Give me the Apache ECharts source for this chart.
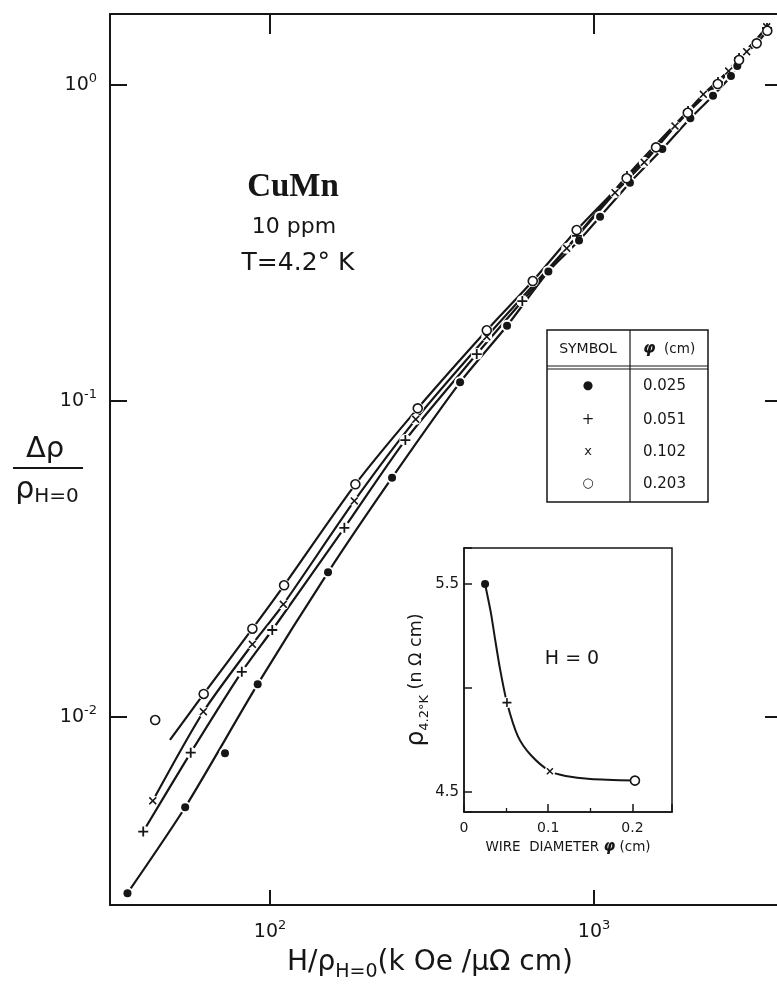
<!DOCTYPE html>
<html>
<head>
<meta charset="utf-8">
<script src="https://cdn.jsdelivr.net/npm/echarts@6/dist/echarts.min.js"></script>
<style>html,body{margin:0;padding:0;background:#fff}#c{width:777px;height:987px}</style>
</head>
<body>
<div id="c"></div>
<script>
// ---------- main Kohler plot: [H/rho(H=0) (kOe/uOhm cm), delta rho / rho(H=0)] ----------
const pts025 = [[36.3,0.00277],[54.7,0.00518],[91.6,0.0127],[151,0.0287],[238,0.0572],[386,0.1146],[539,0.173],[723,0.257],[899,0.322],[1044,0.383],[1291,0.491],[1625,0.627],[1983,0.785],[2330,0.925],[2647,1.068],[2769,1.148]];
const stray025 = [[72.6,0.00768]];
const pts051 = [[40.6,0.00434],[56.9,0.00771],[81.8,0.0139],[101.6,0.01885],[169.6,0.0397],[261.6,0.0752],[434.5,0.1408],[600.8,0.2072],[886,0.333],[1264,0.515],[1951,0.827],[2414,1.022],[2803,1.217],[3420,1.515]];
const pts102 = [[43.45,0.00543],[62.25,0.01039],[88.2,0.01699],[109.9,0.02273],[182,0.04827],[281.7,0.0875],[466.6,0.1598],[823.7,0.3042],[1161,0.4562],[1429,0.5692],[1778,0.7418],[2175,0.9345],[2604,1.107],[2960,1.275],[3412,1.529]];
const lead203 = [[49.1,0.00846]];
const pts203 = [[62.4,0.01183],[88.2,0.01903],[110.5,0.02611],[183.4,0.0545],[285.7,0.0948],[466.6,0.1674],[647,0.2397],[884,0.3476],[1261,0.5067],[1554,0.635],[1947,0.817],[2409,1.007],[2803,1.2],[3178,1.355],[3427,1.485]];
const stray203 = [[44.2,0.00978]];
const mainXRange = [32.06, 3724];
const mainYRange = [0.002541, 1.678];

// ---------- legend table ----------
const diamLabels = ['0.025','0.051','0.102','0.203'];
const legendGlyphs = ['●','+','x','○'];

// ---------- inset: rho(4.2K) vs wire diameter ----------
const diam = [0.025,0.051,0.102,0.203];
const rho0 = [5.5,4.93,4.6,4.555];
const insetCurve = [[0.025,5.5],[0.032,5.36],[0.0367,5.24],[0.0426,5.096],[0.051,4.93],[0.0639,4.769],[0.0793,4.678],[0.102,4.6],[0.1207,4.577],[0.15,4.5625],[0.203,4.555]];
const insetXRange = [0, 0.247];
const insetYRange = [4.404, 5.673];
const insetXLabels = ['0','0.1','0.2'];
const insetYLabels = ['4.5','5.5'];

const INK = '#161616';
const SANS = 'DejaVu Sans';
const PLUS = 'path://M4.1,0H5.9V4.1H10V5.9H5.9V10H4.1V5.9H0V4.1H4.1Z';
const CROSS = 'path://M0,1.4L1.4,0L5,3.6L8.6,0L10,1.4L6.4,5L10,8.6L8.6,10L5,6.4L1.4,10L0,8.6L3.6,5Z';

function powLabel(v){
  const e = Math.log10(v), r = Math.round(e);
  if (Math.abs(e - r) > 1e-6) return '';
  return '{b|10}{s|' + (r < 0 ? '-' + (-r) : r) + '}';
}
const powRich = {
  b:{fontSize:19, lineHeight:26, fontFamily:SANS, color:INK},
  s:{fontSize:13, lineHeight:13, fontFamily:SANS, color:INK, verticalAlign:'top'}
};
function pickLabel(list){
  return function(v){
    for (const s of list){ if (Math.abs(v - parseFloat(s)) < 1e-9) return s; }
    return '';
  };
}

const chart = echarts.init(document.getElementById('c'), null, {renderer:'canvas', width:777, height:987});

function lineS(data, xi, yi, w, sm){
  return {type:'line', xAxisIndex:xi, yAxisIndex:yi, data:data, smooth:sm, showSymbol:false, symbol:'none',
    lineStyle:{color:INK, width:w}, silent:true, z:2, animation:false};
}
function haloS(data, size, xi, yi){
  return {type:'scatter', xAxisIndex:xi, yAxisIndex:yi, data:data, symbol:'circle', symbolSize:size,
    itemStyle:{color:'#fff', opacity:1}, silent:true, z:3, animation:false};
}
function markS(data, sym, size, open, xi, yi){
  return {type:'scatter', xAxisIndex:xi, yAxisIndex:yi, data:data, symbol:sym, symbolSize:size,
    itemStyle: open ? {color:'#fff', borderColor:INK, borderWidth:1.6, opacity:1} : {color:INK, opacity:1},
    silent:true, z:4, animation:false};
}
function txt(x, y, text, size, extra){
  const st = Object.assign({text:text, fontSize:size, fontFamily:SANS, fill:INK, align:'center', textAlign:'center', verticalAlign:'middle', textVerticalAlign:'middle'}, extra || {});
  return {type:'text', x:x, y:y, z:5, style:st};
}

const axisLineStyle = {color:INK, width:2};

const graphics = [
  // annotation
  txt(293, 187, 'CuMn', 33, {fontWeight:'bold', fontFamily:'Liberation Serif'}),
  txt(294, 227, '10 ppm', 22),
  txt(298, 263, 'T=4.2° K', 25),
  // y-axis title (fraction)
  txt(45, 449, 'Δρ', 29),
  {type:'line', z:5, shape:{x1:13, y1:468, x2:83, y2:468}, style:{stroke:INK, lineWidth:2}},
  txt(47, 490, '{r|ρ}{s|H=0}', 30, {rich:{r:{fontSize:30, lineHeight:34, fontFamily:SANS, fill:INK, color:INK}, s:{fontSize:20, lineHeight:22, fontFamily:SANS, fill:INK, color:INK, verticalAlign:'bottom'}}}),
  // x-axis title
  txt(430, 963, '{a|H/ρ}{s|H=0}{a|(k Oe /μΩ cm)}', 28, {rich:{a:{fontSize:28, lineHeight:38, fontFamily:SANS, fill:INK, color:INK}, s:{fontSize:19, lineHeight:18, fontFamily:SANS, fill:INK, color:INK, verticalAlign:'bottom'}}}),
  // inset annotation
  txt(572, 659, 'H = 0', 19),
  // legend table
  {type:'rect', z:4, shape:{x:547, y:330, width:161, height:172}, style:{fill:'#fff', stroke:INK, lineWidth:1.5}},
  {type:'line', z:5, shape:{x1:547, y1:366, x2:708, y2:366}, style:{stroke:INK, lineWidth:1.2}},
  {type:'line', z:5, shape:{x1:547, y1:369, x2:708, y2:369}, style:{stroke:INK, lineWidth:1.2}},
  {type:'line', z:5, shape:{x1:630, y1:330, x2:630, y2:502}, style:{stroke:INK, lineWidth:1.2}},
  txt(588, 349, 'SYMBOL', 14),
  txt(643, 349, '{p|φ}{t|  (cm)}', 14, {align:'left', textAlign:'left',
    rich:{p:{fontSize:16, fontWeight:'bold', fontStyle:'italic', fontFamily:SANS, fill:INK, color:INK}, t:{fontSize:13.5, fontFamily:SANS, fill:INK, color:INK}}})
];
const rowY = [386, 420, 452, 484];
const glyphSize = [12, 15, 13, 13];
diamLabels.forEach(function(s, i){
  graphics.push(txt(588, rowY[i], legendGlyphs[i], glyphSize[i]));
  graphics.push(txt(643, rowY[i], s, 15, {align:'left', textAlign:'left'}));
});

const option = {
  backgroundColor:'#fff',
  animation:false,
  textStyle:{fontFamily:SANS, color:INK},
  grid:[
    {left:110, top:14, width:669, height:891, outerBoundsMode:'none', containLabel:false},
    {left:464, top:548, width:208, height:264, outerBoundsMode:'none', containLabel:false,
     show:true, backgroundColor:'#fff', borderColor:INK, borderWidth:1.5}
  ],
  xAxis:[
    {type:'log', logBase:10, gridIndex:0, position:'bottom', min:mainXRange[0], max:mainXRange[1],
     axisLine:{show:true, lineStyle:axisLineStyle},
     axisTick:{show:true, inside:true, length:15, lineStyle:{color:INK, width:2}},
     minorTick:{show:false}, splitLine:{show:false}, minorSplitLine:{show:false},
     axisLabel:{show:true, margin:14, formatter:powLabel, rich:powRich, showMinLabel:false, showMaxLabel:false}},
    {type:'log', logBase:10, gridIndex:0, position:'top', min:mainXRange[0], max:mainXRange[1],
     axisLine:{show:true, lineStyle:axisLineStyle},
     axisTick:{show:true, inside:true, length:20, lineStyle:{color:INK, width:2}},
     minorTick:{show:false}, splitLine:{show:false}, axisLabel:{show:false}},
    {type:'value', gridIndex:1, position:'bottom', min:insetXRange[0], max:insetXRange[1], minInterval:0.1, maxInterval:0.1,
     axisLine:{show:true, lineStyle:{color:INK, width:1.5}},
     axisTick:{show:true, inside:true, length:8, lineStyle:{color:INK, width:1.5}},
     minorTick:{show:true, splitNumber:2, length:4, lineStyle:{color:INK, width:1.3}},
     splitLine:{show:false}, minorSplitLine:{show:false},
     axisLabel:{show:true, margin:9, fontSize:14, fontFamily:SANS, color:INK, formatter:pickLabel(insetXLabels)},
     name:'{t|WIRE  DIAMETER }{p|φ}{t| (cm)}', nameLocation:'middle', nameGap:28,
     nameTextStyle:{rich:{t:{fontSize:13.5, fontFamily:SANS, color:INK}, p:{fontSize:15, fontFamily:SANS, fontWeight:'bold', fontStyle:'italic', color:INK}}}}
  ],
  yAxis:[
    {type:'log', logBase:10, gridIndex:0, position:'left', min:mainYRange[0], max:mainYRange[1],
     axisLine:{show:true, lineStyle:axisLineStyle},
     axisTick:{show:true, inside:true, length:17, lineStyle:{color:INK, width:2}},
     minorTick:{show:false}, splitLine:{show:false}, minorSplitLine:{show:false},
     axisLabel:{show:true, margin:13, formatter:powLabel, rich:powRich, showMinLabel:false, showMaxLabel:false}},
    {type:'log', logBase:10, gridIndex:0, position:'right', min:mainYRange[0], max:mainYRange[1],
     axisLine:{show:true, lineStyle:axisLineStyle},
     axisTick:{show:true, inside:true, length:14, lineStyle:{color:INK, width:2}},
     minorTick:{show:false}, splitLine:{show:false}, axisLabel:{show:false}},
    {type:'value', gridIndex:1, position:'left', min:insetYRange[0], max:insetYRange[1], minInterval:0.5, maxInterval:0.5,
     axisLine:{show:true, lineStyle:{color:INK, width:1.5}},
     axisTick:{show:true, inside:true, length:8, lineStyle:{color:INK, width:1.5}},
     splitLine:{show:false},
     axisLabel:{show:true, margin:5, fontSize:15, fontFamily:SANS, color:INK, formatter:pickLabel(insetYLabels)},
     name:'{r|ρ}{s|4.2°K}{t| (n Ω cm)}', nameLocation:'middle', nameRotate:90, nameGap:13,
     nameTextStyle:{rich:{
       r:{fontSize:25, lineHeight:30, fontFamily:SANS, color:INK},
       s:{fontSize:13, lineHeight:13, fontFamily:SANS, color:INK, verticalAlign:'bottom'},
       t:{fontSize:17.5, lineHeight:30, fontFamily:SANS, color:INK}}}}
  ],
  series:[
    lineS(pts025, 0, 0, 2.2, 0.25),
    lineS(pts051, 0, 0, 2.2, 0.25),
    lineS(pts102, 0, 0, 2.2, 0.25),
    lineS(lead203.concat(pts203), 0, 0, 2.2, 0.25),
    haloS(pts025.concat(stray025), 12, 0, 0),
    haloS(pts051, 12, 0, 0),
    haloS(pts102, 11, 0, 0),
    haloS(pts203.concat(stray203), 12, 0, 0),
    markS(pts025.concat(stray025), 'circle', 8, false, 0, 0),
    markS(pts051, PLUS, 10, false, 0, 0),
    markS(pts102, CROSS, 8, false, 0, 0),
    markS(pts203.concat(stray203), 'circle', 9, true, 0, 0),
    // inset
    lineS(insetCurve, 2, 2, 2, 0.25),
    haloS(diam.slice(1,3).map((d,i)=>[d, rho0[i+1]]), 11, 2, 2),
    markS([[diam[0], rho0[0]]], 'circle', 8, false, 2, 2),
    markS([[diam[1], rho0[1]]], PLUS, 9, false, 2, 2),
    markS([[diam[2], rho0[2]]], CROSS, 7, false, 2, 2),
    markS([[diam[3], rho0[3]]], 'circle', 9, true, 2, 2)
  ],
  graphic: graphics
};
chart.setOption(option);
</script>
</body>
</html>
